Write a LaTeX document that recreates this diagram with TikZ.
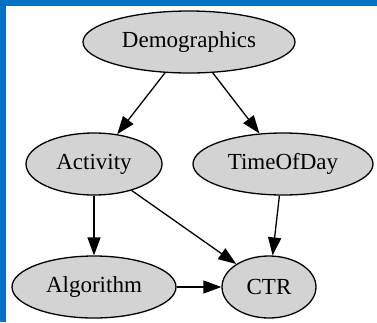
\documentclass[tikz,border=0pt]{standalone}
\usepackage{fontspec}
\setmainfont{Liberation Serif}
\usetikzlibrary{shapes.geometric,arrows.meta}
\definecolor{frameblue}{RGB}{0,114,198}
\definecolor{nodegray}{RGB}{211,211,211}
\tikzset{
  var/.style={ellipse, draw=black, fill=nodegray, line width=1.3pt, inner sep=0pt,
    minimum height=62pt, font=\fontsize{23}{25}\selectfont},
  edge/.style={line width=1.3pt, -{Triangle[length=18pt,width=13pt]}}
}
\begin{document}
\begin{tikzpicture}[x=1pt,y=-1pt]
\useasboundingbox (0,0) rectangle (377,322);
\fill[white] (0,0) rectangle (377,322);
\fill[frameblue] (0,0) rectangle (377,5.5);
\fill[frameblue] (0,0) rectangle (5.5,322);
\node[var, minimum width=212pt] (dem) at (189,42) {Demographics};
\node[var, minimum width=136pt] (act) at (94,164) {Activity};
\node[var, minimum width=180pt] (tod) at (283,164) {TimeOfDay};
\node[var, minimum width=164pt] (alg) at (94,287) {Algorithm};
\node[var, minimum width=94pt] (ctr) at (269,287) {CTR};
\draw[edge] (dem) -- (act);
\draw[edge] (dem) -- (tod);
\draw[edge] (act) -- (alg);
\draw[edge] (act) -- (ctr);
\draw[edge] (tod) -- (ctr);
\draw[edge] (alg) -- (ctr);
\end{tikzpicture}
\end{document}
